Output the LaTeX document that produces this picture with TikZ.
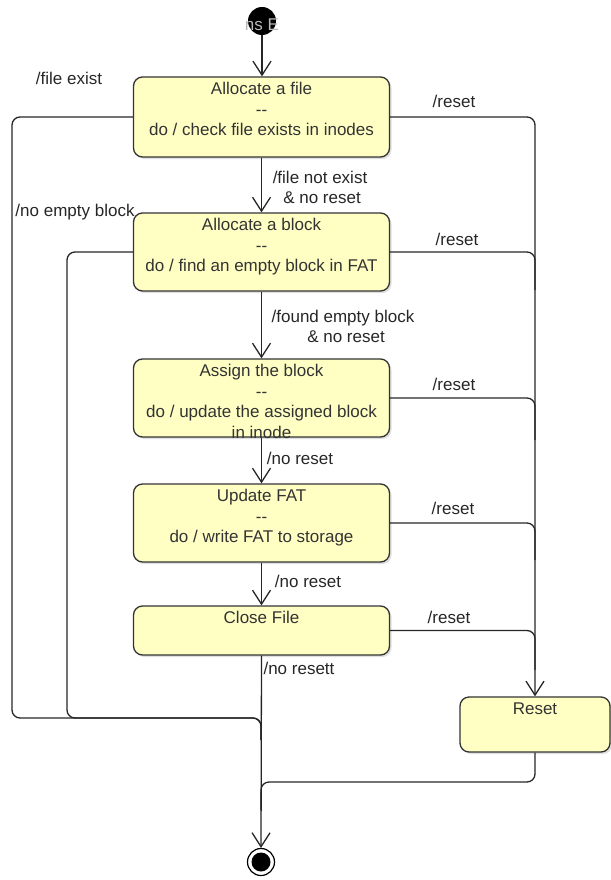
\documentclass[tikz,border=0pt]{standalone}
\usepackage{fontspec}
\setmainfont{Liberation Sans}
\usetikzlibrary{arrows.meta,shadows}
\definecolor{statefill}{HTML}{FFFFC4}
\definecolor{ink}{HTML}{333333}
\newcommand{\sepline}{{-}{-}}
\tikzset{
  state/.style={draw=ink, line width=1.3pt, fill=statefill, rounded corners=9pt,
    minimum width=256pt, inner sep=0pt,
    drop shadow={shadow xshift=2pt, shadow yshift=-2pt, opacity=0.25}},
  stxt/.style={anchor=north, inner sep=0pt, align=center, text=ink,
    font=\fontsize{17}{20.5}\selectfont},
  lbl/.style={inner sep=0pt, text=black!85, align=center,
    font=\fontsize{17}{20}\selectfont},
  conn/.style={draw=black!85, line width=1.3pt, rounded corners=8pt},
  arr/.style={conn, -{Straight Barb[length=14pt,width=18pt]}}
}
\begin{document}
\begin{tikzpicture}[x=1pt,y=-1pt]
\useasboundingbox (0,0) rectangle (610,880);

% initial and final pseudo-states
\node[circle, fill=black, minimum size=28pt, inner sep=0pt] (st) at (262,21) {};
\node[text=gray!55, inner sep=0pt, font=\fontsize{17}{20}\selectfont] (stlbl) at (262,25) {ns E};
\node[circle, draw=black, line width=1.2pt, fill=white, minimum size=27pt, inner sep=0pt] (en) at (261,862) {};
\node[circle, fill=black, minimum size=19pt, inner sep=0pt] (enc) at (en) {};

% states
\node[state, minimum height=80pt] (s1) at (261.5,117) {};
\node[stxt] (t1) at ([yshift=-6pt]s1.north) {Allocate a file\\\sepline\\do / check file exists in inodes};
\node[state, minimum height=78pt] (s2) at (261.5,252) {};
\node[stxt] (t2) at ([yshift=-6pt]s2.north) {Allocate a block\\\sepline\\do / find an empty block in FAT};
\node[state, minimum height=78pt] (s3) at (261.5,398) {};
\node[stxt] (t3) at ([yshift=-6pt]s3.north) {Assign the block\\\sepline\\do / update the assigned block\\in inode};
\node[state, minimum height=78pt] (s4) at (261.5,523) {};
\node[stxt] (t4) at ([yshift=-6pt]s4.north) {Update FAT\\\sepline\\do / write FAT to storage};
\node[state, minimum height=49pt] (s5) at (261.5,630.5) {};
\node[stxt] (t5) at ([yshift=-6pt]s5.north) {Close File};
\node[state, minimum width=150pt, minimum height=55pt] (rs) at (535,724.5) {};
\node[stxt] (t6) at ([yshift=-6pt]rs.north) {Reset};

% junction points
\coordinate (lj) at (261,718);
\coordinate (rj) at (261,782);

% main flow
\draw[arr] (st.south) -- (st.south |- s1.north);
\draw[arr] (s1.south) -- (s2.north);
\draw[arr] (s2.south) -- (s3.north);
\draw[arr] (s3.south) -- (s4.north);
\draw[arr] (s4.south) -- (s5.north);
\draw[arr] (s5.south) -- (en.north);

% failure branches to the final state
\draw[conn] (s1.west) -- (12,117) -- (12,718) -- (lj) -- (261,740);
\draw[conn] (s2.west) -- (67,252) -- (67,718) -- (lj) -- (261,740);

% reset branches
\draw[arr] (s1.east) -- (535,117) -- (rs.north);
\draw[conn] (s2.east) -- (535,252) -- (535,290);
\draw[conn] (s3.east) -- (535,398) -- (535,440);
\draw[conn] (s4.east) -- (535,523) -- (535,560);
\draw[conn] (s5.east) -- (535,630.5) -- (535,670);
\draw[conn] (rs.south) -- (535,782) -- (rj) -- (261,810);

% transition labels
\node[lbl] (l1) at (69,78) {/file exist};
\node[lbl] (l2) at (454,101) {/reset};
\node[lbl] (l3) at (320,187) {/file not exist\\\hspace*{4pt}\& no reset};
\node[lbl] (l4) at (75,212) {/no empty block};
\node[lbl] (l5) at (457,239) {/reset};
\node[lbl] (l6) at (343,326) {/found empty block\\\hspace*{6pt}\& no reset};
\node[lbl] (l7) at (454,384) {/reset};
\node[lbl] (l8) at (300,458) {/no reset};
\node[lbl] (l9) at (453,508) {/reset};
\node[lbl] (l10) at (308,581) {/no reset};
\node[lbl] (l11) at (449,617) {/reset};
\node[lbl] (l12) at (299,668) {/no resett};
\end{tikzpicture}
\end{document}
